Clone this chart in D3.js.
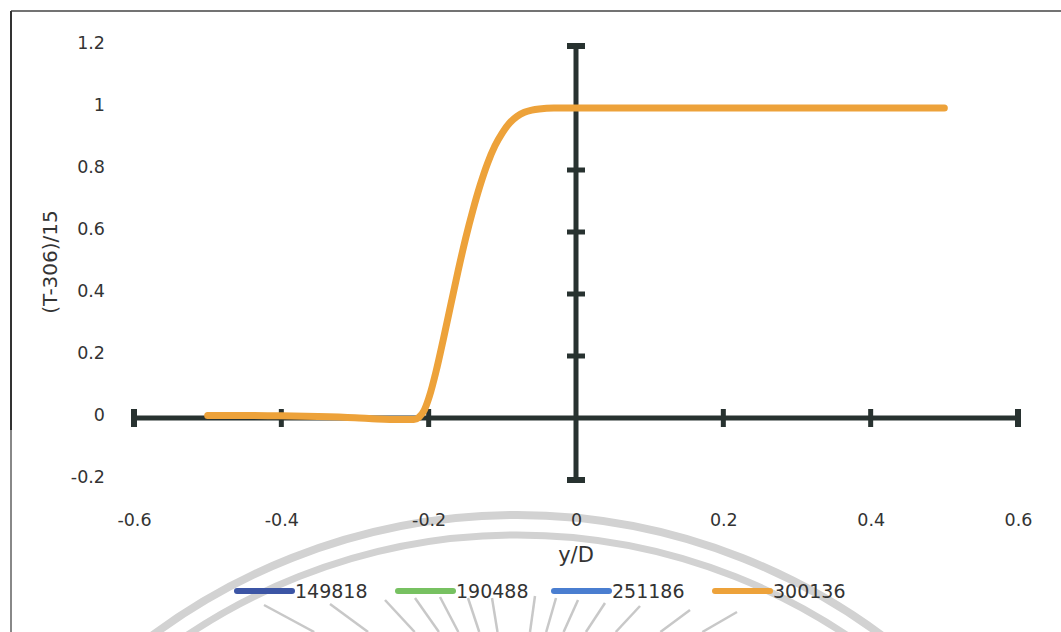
<!DOCTYPE html>
<html>
<head>
<meta charset="utf-8">
<script src="https://cdn.jsdelivr.net/npm/d3@7/dist/d3.min.js"></script>
<style>
html,body{margin:0;padding:0;background:#fff;}
svg{display:block;}
text{font-family:"DejaVu Sans",Verdana,sans-serif;fill:#333;}
</style>
</head>
<body>
<svg id="chart" width="1061" height="632"></svg>
<script>
// ---- data ----
const xTicks = [-0.6, -0.4, -0.2, 0, 0.2, 0.4, 0.6];
const yTicks = [-0.2, 0, 0.2, 0.4, 0.6, 0.8, 1, 1.2];
const seriesNames = ["149818", "190488", "251186", "300136"];
const seriesColors = ["#3c55a5", "#77c161", "#4a7ed0", "#eda23a"];
const curveX = [-0.5, -0.45, -0.4, -0.35, -0.3, -0.27, -0.24, -0.22, -0.213, -0.206, -0.199, -0.19, -0.18, -0.17, -0.16, -0.15, -0.14, -0.13, -0.12, -0.11, -0.1, -0.09, -0.08, -0.07, -0.06, -0.05, -0.03, 0, 0.1, 0.2, 0.3, 0.4, 0.5];
const curveY = [0.008, 0.008, 0.007, 0.005, 0.001, -0.003, -0.005, -0.005, 0.003, 0.025, 0.07, 0.15, 0.255, 0.365, 0.475, 0.578, 0.67, 0.752, 0.822, 0.878, 0.92, 0.952, 0.973, 0.986, 0.993, 0.997, 1.0, 1.0, 1.0, 1.0, 1.0, 1.0, 1.0];

const svg = d3.select("#chart");
const W = 1061, H = 632;

const x = d3.scaleLinear().domain([-0.6, 0.6]).range([134, 1018]);
const y = d3.scaleLinear().domain([-0.2, 1.2]).range([480, 46]);

// ---- background watermark (scan artifact) ----
const wm = svg.append("g").attr("fill", "none");
const cx = 517;
wm.append("circle").attr("cx", cx).attr("cy", 1127).attr("r", 612)
  .attr("stroke", "#d2d2d2").attr("stroke-width", 8);
wm.append("circle").attr("cx", cx).attr("cy", 1127).attr("r", 592)
  .attr("stroke", "#d2d2d2").attr("stroke-width", 7);
const rayStarts = [[264,605],[330,604],[385,600],[415,598],[440,597],[468,598],[492,598],[535,596],[556,598],[578,600],[605,603],[640,606],[690,610],[737,612]];
const conv = [515, 740];
rayStarts.forEach(([sx, sy]) => {
  const t = (H - sy) / (conv[1] - sy);
  wm.append("line").attr("x1", sx).attr("y1", sy)
    .attr("x2", sx + (conv[0] - sx) * t).attr("y2", H)
    .attr("stroke", "#c8c8c8").attr("stroke-width", 2.5);
});

// ---- frame ----
svg.append("line").attr("x1", 11).attr("y1", 11).attr("x2", W).attr("y2", 11)
  .attr("stroke", "#444").attr("stroke-width", 1.5);
svg.append("line").attr("x1", 11).attr("y1", 11).attr("x2", 11).attr("y2", 430)
  .attr("stroke", "#333").attr("stroke-width", 2);
svg.append("line").attr("x1", 11).attr("y1", 430).attr("x2", 11).attr("y2", H)
  .attr("stroke", "#888").attr("stroke-width", 2);

// ---- tick labels via axes ----
const fmt = d => String(d);
const xAxis = svg.append("g").attr("transform", "translate(0,511)")
  .call(d3.axisBottom(x).tickValues(xTicks).tickSize(0).tickFormat(fmt));
xAxis.select(".domain").remove();
xAxis.selectAll("text").style("font-size", "17.5px").attr("fill", "#333")
  .style("font-family", "'DejaVu Sans',sans-serif");

const yAxis = svg.append("g").attr("transform", "translate(108,-3)")
  .call(d3.axisLeft(y).tickValues(yTicks).tickSize(0).tickFormat(fmt));
yAxis.select(".domain").remove();
yAxis.selectAll("text").style("font-size", "17.5px").attr("fill", "#333")
  .style("font-family", "'DejaVu Sans',sans-serif");

// ---- crossing axes ----
const axCol = "#283230";
const ax = svg.append("g").attr("stroke", axCol).attr("stroke-width", 5).attr("stroke-linecap", "butt");
ax.append("line").attr("x1", x(-0.6)).attr("x2", x(0.6)).attr("y1", y(0)).attr("y2", y(0));
ax.append("line").attr("x1", x(0)).attr("x2", x(0)).attr("y1", y(1.2)).attr("y2", y(-0.2));
xTicks.filter(d => d !== 0).forEach(d => {
  const end = Math.abs(d) === 0.6;
  ax.append("line").attr("x1", x(d)).attr("x2", x(d))
    .attr("y1", y(0) - 9).attr("y2", y(0) + 9).attr("stroke-width", end ? 6 : 5);
});
yTicks.filter(d => d !== 0).forEach(d => {
  const end = d === 1.2 || d === -0.2;
  ax.append("line").attr("y1", y(d)).attr("y2", y(d))
    .attr("x1", x(0) - 9).attr("x2", x(0) + 9).attr("stroke-width", end ? 6 : 5);
});

// ---- series ----
const pts = curveX.map((v, i) => [v, curveY[i]]);
svg.append("path").datum(pts)
  .attr("fill", "none").attr("stroke", seriesColors[3]).attr("stroke-width", 7)
  .attr("stroke-linecap", "round").attr("stroke-linejoin", "round")
  .attr("d", d3.line().x(d => x(d[0])).y(d => y(d[1])).curve(d3.curveMonotoneX));

// ---- axis titles ----
svg.append("text").attr("x", 576).attr("y", 562).attr("text-anchor", "middle")
  .style("font-size", "21px").text("y/D");
svg.append("text").attr("transform", "translate(57,262) rotate(-90)").attr("text-anchor", "middle")
  .style("font-size", "20px").text("(T-306)/15");

// ---- legend ----
const legX = [237, 398, 554, 715];
const leg = svg.append("g");
seriesNames.forEach((n, i) => {
  leg.append("line").attr("x1", legX[i]).attr("x2", legX[i] + 55)
    .attr("y1", 591).attr("y2", 591)
    .attr("stroke", seriesColors[i]).attr("stroke-width", 6).attr("stroke-linecap", "round");
  leg.append("text").attr("x", legX[i] + 58).attr("y", 598)
    .style("font-size", "19px").text(n);
});
</script>
</body>
</html>
